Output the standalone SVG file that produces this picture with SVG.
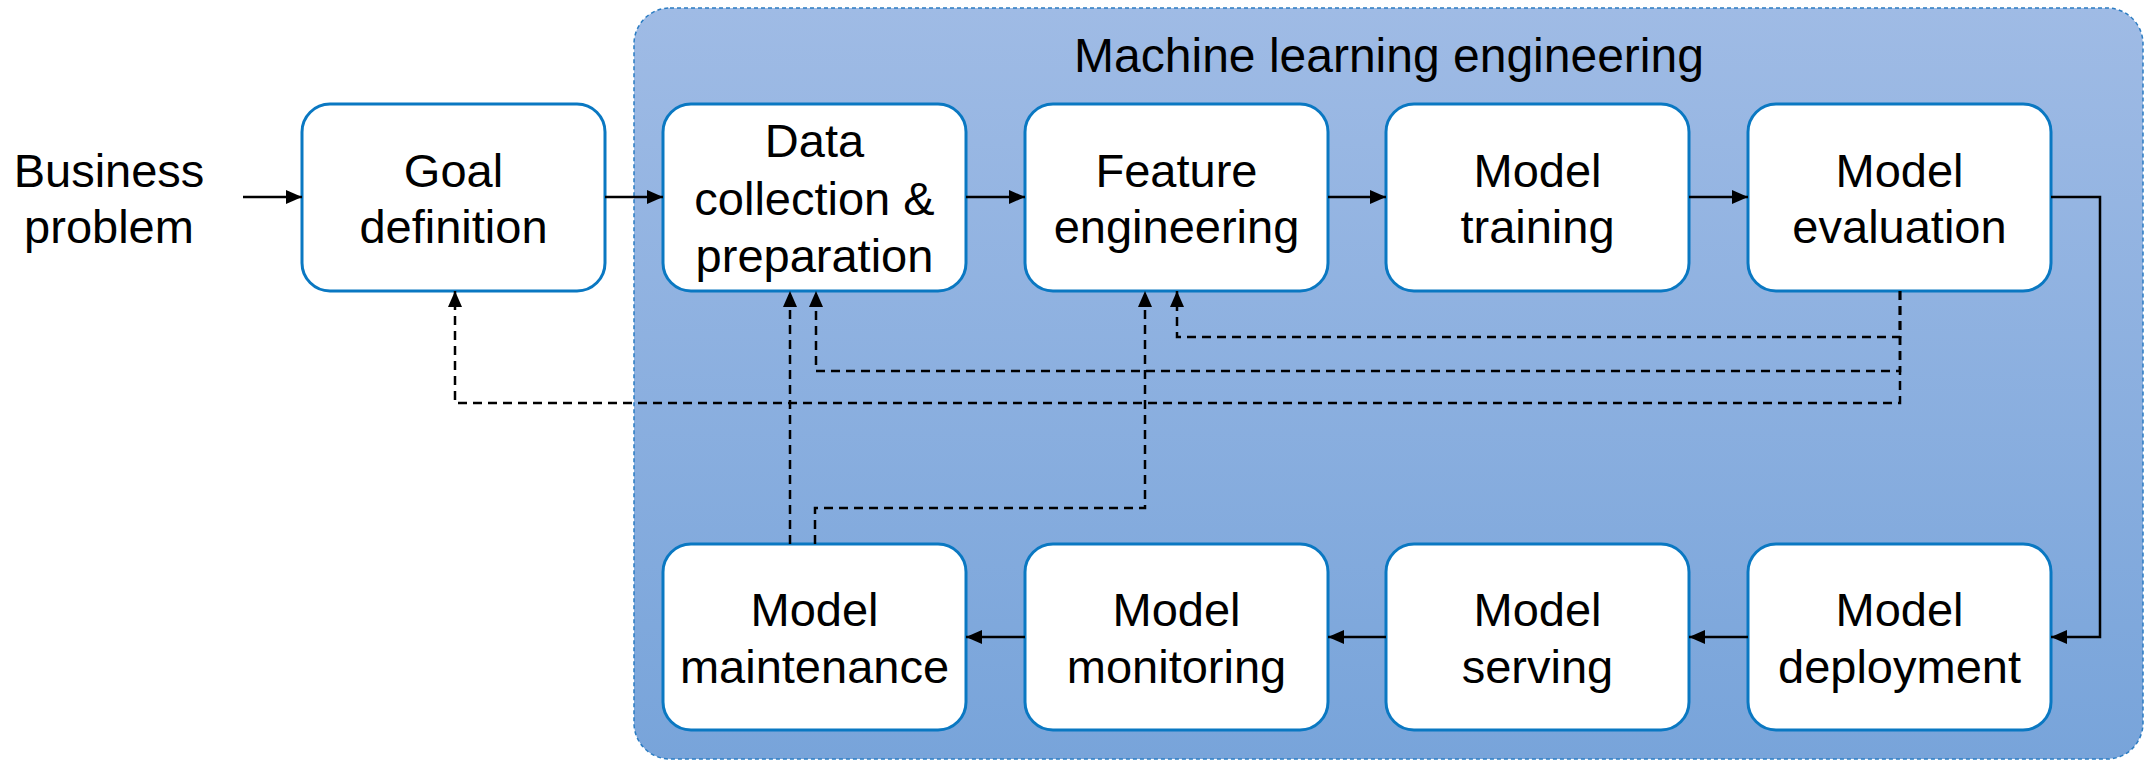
<svg xmlns="http://www.w3.org/2000/svg" width="2150" height="762" viewBox="0 0 2150 762">
  <defs>
    <linearGradient id="mleFill" x1="0" y1="0" x2="0" y2="1">
      <stop offset="0" stop-color="#9FBBE5"/>
      <stop offset="1" stop-color="#78A4DA"/>
    </linearGradient>
    <marker id="arrow" viewBox="0 0 16 14" refX="16" refY="7" markerWidth="16" markerHeight="14" markerUnits="userSpaceOnUse" orient="auto">
      <path d="M0,0 L16,7 L0,14 z" fill="#000"/>
    </marker>
  </defs>
  <style>
    text { font-family: "Liberation Sans", Arial, sans-serif; font-size: 47px; fill: #000; text-anchor: middle; }
    .title { font-size: 48px; }
    .box { fill: #fff; stroke: #0A78C2; stroke-width: 3; }
    .flow { fill: none; stroke: #000; stroke-width: 2.5; marker-end: url(#arrow); }
    .loop { fill: none; stroke: #000; stroke-width: 2.5; stroke-dasharray: 9 6; marker-end: url(#arrow); }
  </style>

  <rect width="2150" height="762" fill="#fff"/>

  <!-- ML engineering container -->
  <g id="ml-engineering">
    <rect x="634" y="8" width="1509" height="751" rx="36" ry="36" fill="url(#mleFill)" stroke="#2B7CC2" stroke-width="1.5" stroke-dasharray="4 3"/>
    <text class="title" x="1389" y="72">Machine learning engineering</text>
  </g>

  <!-- external input -->
  <g id="business-problem">
    <text x="109" y="187">Business</text>
    <text x="109" y="243">problem</text>
  </g>

  <!-- top row -->
  <g id="goal-definition">
    <rect class="box" x="302" y="104" width="303" height="187" rx="28"/>
    <text x="453.5" y="187">Goal</text>
    <text x="453.5" y="243">definition</text>
  </g>
  <g id="data-collection">
    <rect class="box" x="663" y="104" width="303" height="187" rx="28"/>
    <text x="814.5" y="157">Data</text>
    <text x="814.5" y="215">collection &amp;</text>
    <text x="814.5" y="272">preparation</text>
  </g>
  <g id="feature-engineering">
    <rect class="box" x="1025" y="104" width="303" height="187" rx="28"/>
    <text x="1176.5" y="187">Feature</text>
    <text x="1176.5" y="243">engineering</text>
  </g>
  <g id="model-training">
    <rect class="box" x="1386" y="104" width="303" height="187" rx="28"/>
    <text x="1537.5" y="187">Model</text>
    <text x="1537.5" y="243">training</text>
  </g>
  <g id="model-evaluation">
    <rect class="box" x="1748" y="104" width="303" height="187" rx="28"/>
    <text x="1899.5" y="187">Model</text>
    <text x="1899.5" y="243">evaluation</text>
  </g>

  <!-- bottom row -->
  <g id="model-maintenance">
    <rect class="box" x="663" y="544" width="303" height="186" rx="28"/>
    <text x="814.5" y="626">Model</text>
    <text x="814.5" y="683">maintenance</text>
  </g>
  <g id="model-monitoring">
    <rect class="box" x="1025" y="544" width="303" height="186" rx="28"/>
    <text x="1176.5" y="626">Model</text>
    <text x="1176.5" y="683">monitoring</text>
  </g>
  <g id="model-serving">
    <rect class="box" x="1386" y="544" width="303" height="186" rx="28"/>
    <text x="1537.5" y="626">Model</text>
    <text x="1537.5" y="683">serving</text>
  </g>
  <g id="model-deployment">
    <rect class="box" x="1748" y="544" width="303" height="186" rx="28"/>
    <text x="1899.5" y="626">Model</text>
    <text x="1899.5" y="683">deployment</text>
  </g>

  <!-- connectors -->
  <g id="connectors">
    <path class="flow" d="M243,197 H302"/>
    <path class="flow" d="M605,197 H663"/>
    <path class="flow" d="M966,197 H1025"/>
    <path class="flow" d="M1328,197 H1386"/>
    <path class="flow" d="M1689,197 H1748"/>
    <path class="flow" d="M2051,197 H2100 V637 H2051"/>
    <path class="flow" d="M1748,637 H1689"/>
    <path class="flow" d="M1386,637 H1328"/>
    <path class="flow" d="M1025,637 H966"/>

    <!-- feedback loops -->
    <path class="loop" d="M1900,291 V337 H1177 V291"/>
    <path class="loop" d="M1900,291 V371 H816 V291"/>
    <path class="loop" d="M1900,291 V403 H455 V291"/>
    <path class="loop" d="M790,544 V291"/>
    <path class="loop" d="M815,544 V508 H1145 V291"/>
  </g>
</svg>
